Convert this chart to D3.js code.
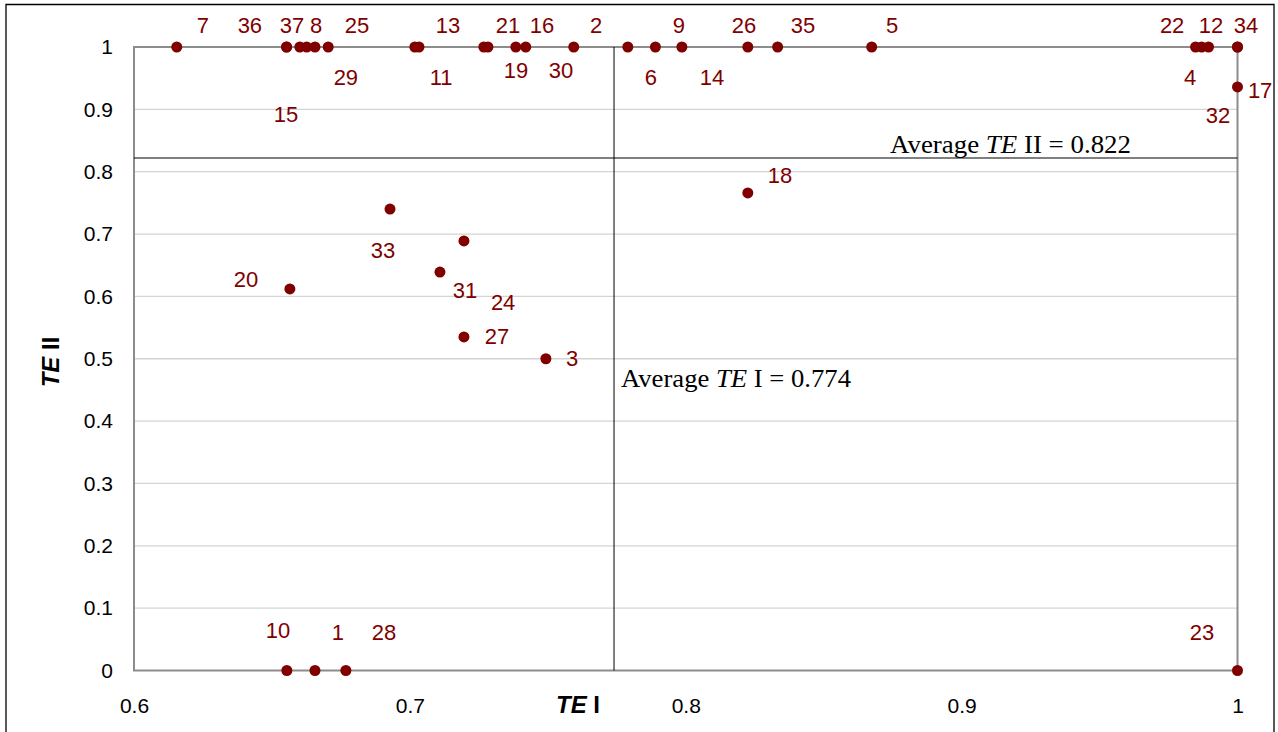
<!DOCTYPE html>
<html><head><meta charset="utf-8">
<script src="https://cdn.jsdelivr.net/npm/d3@7"></script>
<style>body{margin:0;background:#fff;}svg{display:block;}</style>
</head><body>
<svg id="c" width="1278" height="732"></svg>
<script>
// DMU identifiers
const ids   = [1,2,3,4,5,6,7,8,9,10,11,12,13,14,15,16,17,18,19,20,21,22,23,24,25,26,27,28,29,30,31,32,33,34,35,36,37];
// TE I values
const te1   = [0.6656,0.7594,0.7493,0.9870,0.8674,0.7790,0.6155,0.6626,0.7890,0.6554,0.7033,0.9895,0.7018,0.7986,0.6553,0.7384,1.0,0.8225,0.7283,0.6565,0.7268,0.9848,1.0,0.7196,0.6704,0.8225,0.7196,0.6768,0.6656,0.7420,0.7109,1.0,0.6928,1.0,0.8333,0.6553,0.6601];
// TE II values
const te2   = [0,1,0.500,1,1,1,1,1,1,0,1,1,1,1,1,1,0.936,0.766,1,0.612,1,1,0,0.689,1,1,0.535,0,1,1,0.639,1,0.740,1,1,1,1];
// label anchor positions (data units) for each DMU label
const labX  = [0.6739,0.7675,0.7588,0.9828,0.8748,0.7874,0.6250,0.6660,0.7975,0.6522,0.7113,0.9904,0.7138,0.8095,0.6551,0.7479,1.0082,0.8342,0.7385,0.6406,0.7356,0.9763,0.9871,0.7338,0.6808,0.8211,0.7316,0.6906,0.6768,0.7548,0.7200,0.9929,0.6903,1.0031,0.8425,0.6420,0.6573];
const labY  = [0.062,1.035,0.500,0.951,1.035,0.951,1.035,1.035,1.035,0.065,0.951,1.035,1.035,0.951,0.892,1.035,0.931,0.795,0.963,0.628,1.035,1.035,0.062,0.591,1.035,1.035,0.536,0.062,0.951,0.963,0.610,0.891,0.674,1.035,1.035,1.035,1.035];
const xTicks = [0.6,0.7,0.8,0.9,1];
const yTicks = [0,0.1,0.2,0.3,0.4,0.5,0.6,0.7,0.8,0.9,1];
const avgTE1 = 0.774, avgTE2 = 0.822;

const svg = d3.select("#c");
const L=134, R=1237.5, T=47, B=670.5;
const x = d3.scaleLinear().domain([0.6,1]).range([L,R]);
const y = d3.scaleLinear().domain([0,1]).range([B,T]);

// outer chart border
svg.append("path").attr("d","M6,740 V4.5 H1274 V740").attr("fill","none").attr("stroke","#000").attr("stroke-width",1.3);

// gridlines
svg.append("g").selectAll("line").data(yTicks.slice(1,-1)).join("line")
  .attr("x1",L).attr("x2",R).attr("y1",d=>y(d)).attr("y2",d=>y(d))
  .attr("stroke","#d4d4d4").attr("stroke-width",1.3);

// plot frame
svg.append("rect").attr("x",L).attr("y",T).attr("width",R-L).attr("height",B-T)
  .attr("fill","none").attr("stroke","#8c8c8c").attr("stroke-width",2);

// axes tick labels
const sans = "Liberation Sans, Arial, sans-serif";
const yAxis = d3.axisLeft(y).tickValues(yTicks).tickSize(0).tickPadding(21).tickFormat(d3.format("~g"));
const gy = svg.append("g").attr("transform",`translate(${L},0)`).call(yAxis);
const xAxis = d3.axisBottom(x).tickValues(xTicks).tickSize(0).tickPadding(28).tickFormat(d3.format("~g"));
const gx = svg.append("g").attr("transform",`translate(0,${B})`).call(xAxis);
[gx,gy].forEach(g=>{g.select(".domain").remove();
  g.selectAll("text").attr("font-family",sans).attr("font-size",21).attr("fill","#000");});

// average lines
svg.append("line").attr("x1",x(avgTE1)).attr("x2",x(avgTE1)).attr("y1",T).attr("y2",B).attr("stroke","#000").attr("stroke-width",1);
svg.append("line").attr("x1",L).attr("x2",R).attr("y1",y(avgTE2)).attr("y2",y(avgTE2)).attr("stroke","#000").attr("stroke-width",1.2);

const serif = "Liberation Serif, Times New Roman, serif";
const t2 = svg.append("text").attr("x",890).attr("y",y(avgTE2)-5)
  .attr("font-family",serif).attr("font-size",26).attr("fill","#000")
  .attr("textLength",241).attr("lengthAdjust","spacingAndGlyphs");
t2.append("tspan").text("Average ");
t2.append("tspan").attr("font-style","italic").text("TE");
t2.append("tspan").text(" II = " + avgTE2);
const t1 = svg.append("text").attr("x",x(avgTE1)+7).attr("y",387)
  .attr("font-family",serif).attr("font-size",26).attr("fill","#000")
  .attr("textLength",230).attr("lengthAdjust","spacingAndGlyphs");
t1.append("tspan").text("Average ");
t1.append("tspan").attr("font-style","italic").text("TE");
t1.append("tspan").text(" I = " + avgTE1);

// axis titles
const xt = svg.append("text").attr("x",578).attr("y",713).attr("text-anchor","middle")
  .attr("font-family",sans).attr("font-size",24).attr("font-weight","bold");
xt.append("tspan").attr("font-style","italic").text("TE");
xt.append("tspan").text(" I");
const yt = svg.append("text").attr("transform","translate(59,362) rotate(-90)").attr("text-anchor","middle")
  .attr("font-family",sans).attr("font-size",24).attr("font-weight","bold");
yt.append("tspan").attr("font-style","italic").text("TE");
yt.append("tspan").text(" II");

// points
const pts = ids.map((id,i)=>({id, a:te1[i], b:te2[i], lx:labX[i], ly:labY[i]}));
svg.append("g").selectAll("circle").data(pts).join("circle")
  .attr("cx",d=>x(d.a)).attr("cy",d=>y(d.b)).attr("r",5.5).attr("fill","#800000");
svg.append("g").selectAll("text").data(pts).join("text")
  .attr("x",d=>x(d.lx)).attr("y",d=>y(d.ly)).attr("dy","0.35em").attr("text-anchor","middle")
  .attr("font-family",sans).attr("font-size",22).attr("fill","#800000").text(d=>d.id);
</script>
</body></html>
